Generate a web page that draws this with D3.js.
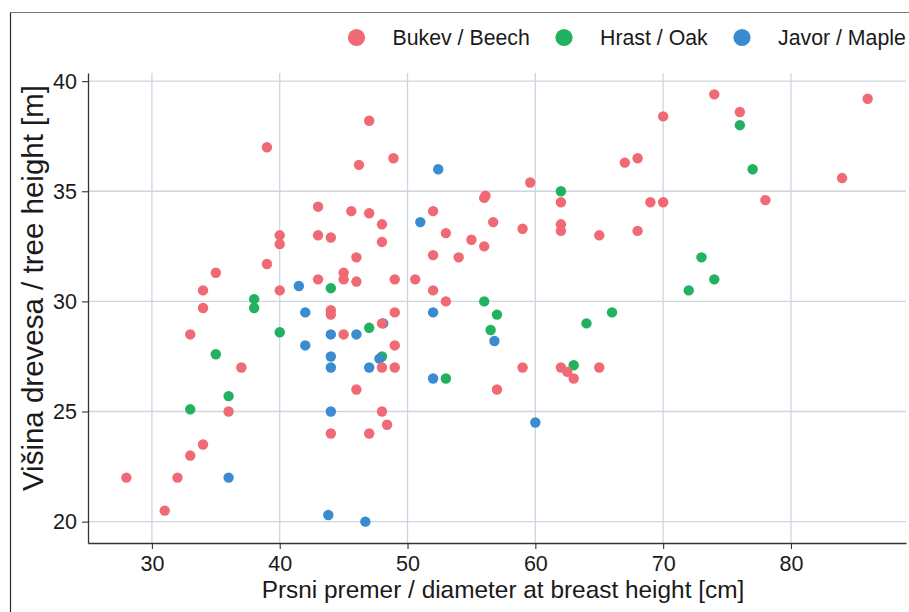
<!DOCTYPE html>
<html>
<head>
<meta charset="utf-8">
<script src="https://cdn.jsdelivr.net/npm/d3@7"></script>
<style>
  html, body { margin: 0; padding: 0; background: #fff; }
  svg { display: block; font-family: "Liberation Sans", Arial, Helvetica, sans-serif; }
</style>
</head>
<body>
<svg id="chart" width="909" height="612"></svg>
<script>
// ---- data ----
const categories = ["Bukev / Beech", "Hrast / Oak", "Javor / Maple"];
const seriesColors = ["#ef6a74", "#22b15e", "#3a8bd0"];

const beechDbh = [39, 43, 40, 40, 43, 44, 39, 35, 34, 40, 43, 34, 44, 44, 33, 37, 36, 44, 34, 33, 28, 32, 31,
  47, 46.2, 48.9, 59.6, 62, 56, 56.1, 45.6, 47, 48, 52, 56.7, 59, 62, 62, 48, 53, 55, 56, 46, 52, 54, 45, 45, 46, 49, 50.6, 52, 53,
  49, 48, 45, 49, 48, 49, 59, 62, 62.5, 63, 46, 57, 48, 48.4, 47,
  74, 76, 70, 86, 68, 67, 84, 78, 69, 70, 68, 65, 65];
const beechHeight = [37, 34.3, 33, 32.6, 33, 32.9, 31.7, 31.3, 30.5, 30.5, 31, 29.7, 29.6, 29.4, 28.5, 27, 25, 24, 23.5, 23, 22, 22, 20.5,
  38.2, 36.2, 36.5, 35.4, 34.5, 34.7, 34.8, 34.1, 34, 33.5, 34.1, 33.6, 33.3, 33.5, 33.2, 32.7, 33.1, 32.8, 32.5, 32, 32.1, 32, 31.3, 31, 30.9, 31, 31, 30.5, 30,
  29.5, 29, 28.5, 28, 27, 27, 27, 27, 26.8, 26.5, 26, 26, 25, 24.4, 24,
  39.4, 38.6, 38.4, 39.2, 36.5, 36.3, 35.6, 34.6, 34.5, 34.5, 33.2, 33, 27];

const oakDbh = [44, 38, 38, 40, 35, 36, 33, 62, 56, 57, 47, 56.5, 48, 53, 63, 76, 77, 73, 74, 72, 66, 64];
const oakHeight = [30.6, 30.1, 29.7, 28.6, 27.6, 25.7, 25.1, 35, 30, 29.4, 28.8, 28.7, 27.5, 26.5, 27.1, 38, 36, 32, 31, 30.5, 29.5, 29];

const mapleDbh = [41.5, 42, 44, 42, 44, 44, 44, 36, 43.8, 52.4, 51, 52, 48.1, 56.8, 46, 47.8, 47, 52, 60, 46.7];
const mapleHeight = [30.7, 29.5, 28.5, 28, 27.5, 27, 25, 22, 20.3, 36, 33.6, 29.5, 29, 28.2, 28.5, 27.4, 27, 26.5, 24.5, 20];

const xTicks = [30, 40, 50, 60, 70, 80];
const yTicks = [20, 25, 30, 35, 40];
const xDomain = [25.0, 89.0];
const yDomain = [19.03, 40.37];

const xTitle = "Prsni premer / diameter at breast height [cm]";
const yTitle = "Višina drevesa / tree height [m]";

// ---- build ----
const series = [
  { name: categories[1], color: seriesColors[1], xs: oakDbh, ys: oakHeight },
  { name: categories[2], color: seriesColors[2], xs: mapleDbh, ys: mapleHeight },
  { name: categories[0], color: seriesColors[0], xs: beechDbh, ys: beechHeight }
];

const svg = d3.select("#chart");
const pLeft = 88, pRight = 906, pTop = 73, pBottom = 543;
const textColor = "#1a1a1a";

const x = d3.scaleLinear().domain(xDomain).range([pLeft, pRight]);
const y = d3.scaleLinear().domain(yDomain).range([pBottom, pTop]);

// outer frame (partial, as in reference)
svg.append("line").attr("x1", 10.5).attr("x2", 909).attr("y1", 12.5).attr("y2", 12.5)
  .attr("stroke", "#7a7a7a").attr("stroke-width", 1.2);
svg.append("line").attr("x1", 10.5).attr("x2", 10.5).attr("y1", 12.5).attr("y2", 612)
  .attr("stroke", "#2a2a2a").attr("stroke-width", 1.2);

// grid
const grid = svg.append("g");
grid.selectAll("line.vx").data(xTicks).join("line")
  .attr("x1", d => x(d)).attr("x2", d => x(d)).attr("y1", pTop).attr("y2", pBottom)
  .attr("stroke", "#cdd6e0").attr("stroke-width", 1.3);
grid.selectAll("line.hy").data(yTicks).join("line")
  .attr("x1", pLeft).attr("x2", pRight).attr("y1", d => y(d)).attr("y2", d => y(d))
  .attr("stroke", "#cdd6e0").attr("stroke-width", 1.3);

// axes
const xAxis = svg.append("g").attr("transform", `translate(0,${pBottom})`)
  .call(d3.axisBottom(x).tickValues(xTicks).tickSize(6).tickPadding(7).tickSizeOuter(0));
const yAxis = svg.append("g").attr("transform", `translate(${pLeft},0)`)
  .call(d3.axisLeft(y).tickValues(yTicks).tickSize(6).tickPadding(5).tickSizeOuter(0));

[xAxis, yAxis].forEach(g => {
  g.select(".domain").attr("stroke", "#333").attr("stroke-width", 1.3);
  g.selectAll(".tick line").attr("stroke", "#333").attr("stroke-width", 1.1);
  g.selectAll(".tick text").attr("fill", textColor)
    .style("font-size", "21.5px").style("font-family", "'Liberation Sans', Arial, sans-serif");
});

// points
series.forEach(s => {
  svg.append("g").selectAll("circle").data(s.xs.map((v, i) => [v, s.ys[i]])).join("circle")
    .attr("cx", d => x(d[0])).attr("cy", d => y(d[1])).attr("r", 5.2)
    .attr("fill", s.color);
});

// axis titles
svg.append("text").attr("x", (pLeft + pRight) / 2 + 6).attr("y", 598)
  .attr("text-anchor", "middle").attr("fill", textColor)
  .style("font-size", "24.4px").text(xTitle);
svg.append("text").attr("transform", "translate(43,288) rotate(-90)")
  .attr("text-anchor", "middle").attr("fill", textColor)
  .style("font-size", "29.5px").text(yTitle);

// legend
const legendX = [356.5, 564, 742];
const legend = svg.append("g");
categories.forEach((c, i) => {
  legend.append("circle").attr("cx", legendX[i]).attr("cy", 37.5).attr("r", 8.6).attr("fill", seriesColors[i]);
  legend.append("text").attr("x", legendX[i] + 36).attr("y", 45)
    .attr("fill", textColor).style("font-size", "21.3px").text(c);
});
</script>
</body>
</html>
